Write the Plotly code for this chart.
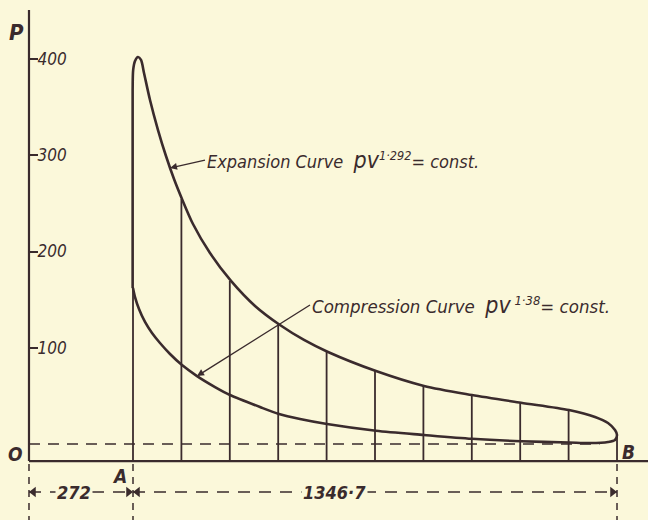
import plotly.graph_objects as go

# ---------------- data ----------------
# volume scale (clearance + stroke), pressure in lb/sq.in. (gauge)
CLEARANCE = 272.0
STROKE = 1346.7
N_DIVISIONS = 10

# combustion line + expansion curve (A -> B)
EXP_V = [271, 271, 272.5, 277.6, 285.9, 294.3, 302.6, 319.3, 341.6, 363.8, 386.1,
         408.3, 438.9, 486.2, 544.7, 611.5, 681.0, 747.8, 814.6, 948.1, 1081.7,
         1215.2, 1351.6, 1485.1, 1557.5, 1593.6, 1613.1, 1618.7]
EXP_P = [162.1, 367.8, 388.6, 397.9, 402.1, 399.0, 385.5, 357.4, 326.2, 299.2, 275.3,
         254.6, 228.6, 198.4, 169.4, 143.4, 123.6, 108.1, 95.6, 75.8, 60.3,
         50.9, 42.9, 35.3, 28.1, 21.8, 14.5, 9.4]
# compression curve (B -> A)
COMP_V = [1613.1, 1593.6, 1543.5, 1485.1, 1351.6, 1215.2, 1081.7, 948.1, 811.8, 736.7,
          678.2, 625.4, 541.9, 500.2, 450.1, 408.3, 375.0, 347.1, 324.9, 305.4, 288.7,
          277.6, 272.0]
COMP_P = [4.2, 2.1, 1.0, 1.6, 2.9, 5.4, 9.4, 13.8, 20.8, 26.0,
          31.2, 38.4, 50.9, 59.2, 70.6, 82.0, 93.5, 104.9, 115.3, 126.8, 140.3,
          152.7, 162.1]

# height of each ordinate (A, 1..9, B) where it meets the diagram
ORDINATE_TOP_P = [162.1, 254.6, 169.4, 124.5, 95.6, 75.8, 60.3, 50.9, 42.9, 35.3, 9.4]

Y_TICKS = [100, 200, 300, 400]
Y_TICK_LABELS = ["100", "200", "300", "400"]

ATMOS_P = 0.0          # atmospheric line (dashed)
ABS_ZERO_P = -17.7     # datum line

# ---------------- layout constants ----------------
X_RANGE = [-98.06, 1704.94]
Y_RANGE = [-78.96, 461.3]
PX_PER_V = 648 / (X_RANGE[1] - X_RANGE[0])
AXIS_V = -17.4
AXIS_TOP_P = 450.9
DIM_P = -49.9
INK = "#3a2b2d"
BG = "#FBF8DA"
FONT = "Liberation Sans Narrow, DejaVu Sans Condensed, Liberation Sans, sans-serif"

V_A = CLEARANCE
V_B = CLEARANCE + STROKE
ord_v = [CLEARANCE + k * STROKE / N_DIVISIONS for k in range(N_DIVISIONS + 1)]

fig = go.Figure()

# axes drawn as lines
fig.add_trace(go.Scatter(x=[AXIS_V, AXIS_V, None, AXIS_V, X_RANGE[1]],
                         y=[AXIS_TOP_P, ABS_ZERO_P, None, ABS_ZERO_P, ABS_ZERO_P],
                         mode="lines", line=dict(color=INK, width=2.2),
                         hoverinfo="skip", showlegend=False))

# ordinates
ox, oy = [], []
for v, top in zip(ord_v, ORDINATE_TOP_P):
    ox += [v, v, None]
    oy += [ABS_ZERO_P, top, None]
fig.add_trace(go.Scatter(x=ox, y=oy, mode="lines", line=dict(color=INK, width=1.8),
                         hoverinfo="skip", showlegend=False))

# atmospheric line
fig.add_trace(go.Scatter(x=[AXIS_V, 1570], y=[ATMOS_P, ATMOS_P], mode="lines",
                         line=dict(color=INK, width=1.6, dash="11px,8px"),
                         hoverinfo="skip", showlegend=False))

# dashed extension lines below the datum
ex, ey = [], []
for v in [AXIS_V, V_A, V_B]:
    ex += [v, v, None]
    ey += [ABS_ZERO_P - 3, Y_RANGE[0], None]
fig.add_trace(go.Scatter(x=ex, y=ey, mode="lines",
                         line=dict(color=INK, width=1.5, dash="7px,6px"),
                         hoverinfo="skip", showlegend=False))

# dimension lines
fig.add_trace(go.Scatter(x=[AXIS_V, V_A, None, V_A, V_B], y=[DIM_P, DIM_P, None, DIM_P, DIM_P],
                         mode="lines", line=dict(color=INK, width=1.5, dash="12px,9px"),
                         hoverinfo="skip", showlegend=False))

# dimension arrowheads (markers, tip touching the extension lines)
half = 4.5 / PX_PER_V
fig.add_trace(go.Scatter(
    x=[AXIS_V + half, V_A - half, V_A + half, V_B - half],
    y=[DIM_P] * 4, mode="markers",
    marker=dict(symbol=["triangle-left", "triangle-right", "triangle-left", "triangle-right"],
                size=9, color=INK),
    hoverinfo="skip", showlegend=False))

# the indicator loop
fig.add_trace(go.Scatter(x=EXP_V + COMP_V, y=EXP_P + COMP_P, mode="lines",
                         line=dict(color=INK, width=2.6, shape="spline", smoothing=0.8),
                         hoverinfo="skip", showlegend=False))

ann = []
def label(text, x, y, size, xanchor="center", bg=None):
    d = dict(x=x, y=y, xref="x", yref="y", text=text, showarrow=False, xanchor=xanchor,
             yanchor="middle", font=dict(family=FONT, size=size, color=INK, style="italic"))
    if bg:
        d["bgcolor"] = bg
    ann.append(d)

label("<b>P</b>", -50.8, 428, 22)
label("<b>O</b>", -56.3, -10.4, 19)
label("<b>A</b>", 235.8, -33.2, 19)
label("<b>B</b>", 1649.3, -8.3, 19)
label("<b>272</b>", 107.8, DIM_P, 18, bg=BG)
label("<b>1346·7</b>", 834.0, DIM_P, 18, bg=BG)

# curve labels with leaders
ann.append(dict(x=375.0, y=286.8, ax=472.3, ay=295, xref="x", yref="y", axref="x", ayref="y",
                text="Expansion Curve  <span style='font-size:23px'>pv</span><sup>1·292</sup>= const.",
                xanchor="left", yanchor="middle", showarrow=True, arrowhead=2, arrowsize=1,
                arrowwidth=1.4, arrowcolor=INK, standoff=0, startstandoff=0,
                font=dict(family=FONT, size=18, color=INK, style="italic")))
ann.append(dict(x=450.1, y=70.6, ax=764.5, ay=144.4, xref="x", yref="y", axref="x", ayref="y",
                text="Compression Curve  <span style='font-size:23px'>pv</span><sup> 1·38</sup>= const.",
                xanchor="left", yanchor="middle", showarrow=True, arrowhead=2, arrowsize=1,
                arrowwidth=1.4, arrowcolor=INK, standoff=0, startstandoff=0,
                font=dict(family=FONT, size=18.5, color=INK, style="italic")))

fig.update_layout(
    width=648, height=520, margin=dict(l=0, r=0, t=0, b=0),
    paper_bgcolor=BG, plot_bgcolor=BG,
    annotations=ann,
    xaxis=dict(range=X_RANGE, visible=False, fixedrange=True),
    yaxis=dict(range=Y_RANGE, anchor="free", position=29 / 648, side="left",
               showline=False, showgrid=False, zeroline=False,
               tickvals=Y_TICKS, ticktext=Y_TICK_LABELS,
               ticks="inside", ticklen=8, tickwidth=2, tickcolor=INK,
               ticklabelposition="inside",
               tickfont=dict(family=FONT, size=17, color=INK, style="italic"),
               fixedrange=True),
    showlegend=False,
)

fig.write_html("out.html", config={"displayModeBar": False},
               post_script="document.body.style.margin='0px';")
